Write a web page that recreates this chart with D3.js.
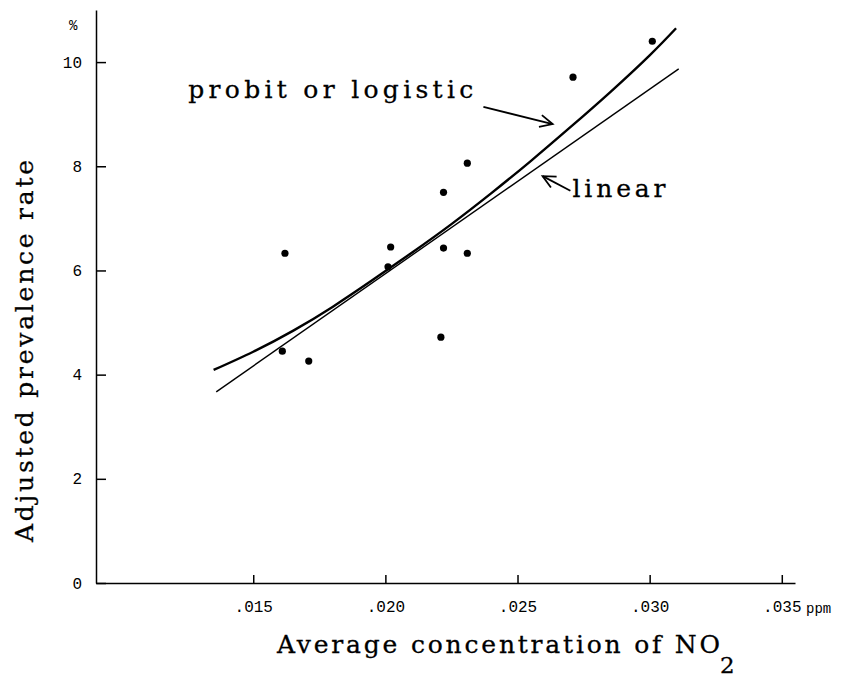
<!DOCTYPE html>
<html>
<head>
<meta charset="utf-8">
<script src="https://cdn.jsdelivr.net/npm/d3@7"></script>
<style>
  body { margin: 0; background: #fff; }
  svg { display: block; }
  text { font-family: "Liberation Mono", "DejaVu Sans Mono", monospace; fill: #000; }
  text.type { font-family: "DejaVu Serif", "Liberation Serif", serif; stroke: #000; stroke-width: 0.3; }
  .axis path, .axis line { stroke: #000; stroke-width: 1.5; }
</style>
</head>
<body>
<div id="chart"></div>
<script>
// observed points: NO2 concentration (ppm) vs adjusted prevalence rate (%)
const concentration = [0.0162, 0.0161, 0.0171, 0.0202, 0.0201, 0.0222, 0.0222, 0.0231, 0.0231, 0.0221, 0.0271, 0.0301];
const prevalence = [6.33, 4.45, 4.26, 6.45, 6.07, 7.50, 6.43, 8.06, 6.33, 4.72, 9.71, 10.40];

// fitted curves
const probitX = [0.0135, 0.0150, 0.0165, 0.0180, 0.0195, 0.0210, 0.0225, 0.0240, 0.0255, 0.0270, 0.0285, 0.0300, 0.0310];
const probitY = [4.09, 4.44, 4.84, 5.30, 5.81, 6.34, 6.89, 7.48, 8.10, 8.75, 9.42, 10.13, 10.65];
const linearX = [0.0136, 0.0311];
const linearY = [3.67, 9.87];

const xTicks = [0.015, 0.020, 0.025, 0.030, 0.035];
const xTickLabels = [".015", ".020", ".025", ".030", ".035"];
const yTicks = [0, 2, 4, 6, 8, 10];

// curve labels and their arrows, in data units
const notes = [
    { text: "probit or logistic", x: 0.01254, y: 9.31, len: 285 },
    { text: "linear", x: 0.02708, y: 7.41, len: 93 }
];
const arrows = [
    { from: [0.02371, 9.14], to: [0.02633, 8.81] },
    { from: [0.02700, 7.53], to: [0.02595, 7.81] }
];

const width = 861, height = 679;

var xScale = d3.scaleLinear()
    .domain([0.00905, 0.0355])
    .range([96, 795]);

var yScale = d3.scaleLinear()
    .domain([0, 11])
    .range([583, 10]);

var svg = d3.select("#chart").append("svg")
    .attr("width", width)
    .attr("height", height);

// x-axis, ticks pointing up into the plot
svg.append("g")
    .attr("class", "axis")
    .attr("transform", "translate(0," + yScale(0) + ")")
    .call(d3.axisBottom(xScale)
        .tickValues(xTicks)
        .tickFormat((d, i) => xTickLabels[i])
        .tickSizeInner(-8)
        .tickSizeOuter(0)
        .tickPadding(18))
    .call(g => g.selectAll("text").attr("font-size", 16));

// y-axis, ticks pointing right
svg.append("g")
    .attr("class", "axis")
    .attr("transform", "translate(" + xScale.range()[0] + ",0)")
    .call(d3.axisLeft(yScale)
        .tickValues(yTicks)
        .tickSizeInner(-10)
        .tickSizeOuter(0)
        .tickPadding(14))
    .call(g => g.selectAll("text").attr("font-size", 16));

svg.selectAll(".axis .domain").attr("fill", "none");

// units
svg.append("text")
    .attr("x", 69).attr("y", 30)
    .attr("font-size", 14)
    .text("%");

svg.append("text")
    .attr("x", 806).attr("y", 613)
    .attr("font-size", 14)
    .text("ppm");

// axis titles
svg.append("text")
    .attr("class", "type")
    .attr("transform", "translate(33,542) rotate(-90)")
    .attr("font-size", 25)
    .attr("textLength", 382)
    .attr("lengthAdjust", "spacing")
    .text("Adjusted prevalence rate");

var xTitle = svg.append("g");
xTitle.append("text")
    .attr("class", "type")
    .attr("x", 277).attr("y", 653)
    .attr("font-size", 25)
    .attr("textLength", 443)
    .attr("lengthAdjust", "spacing")
    .text("Average concentration of NO");
xTitle.append("text")
    .attr("class", "type")
    .attr("x", 720).attr("y", 673)
    .attr("font-size", 23)
    .text("2");

// fitted curves
var line = d3.line()
    .x(d => xScale(d[0]))
    .y(d => yScale(d[1]));

svg.append("path")
    .datum(linearX.map((x, i) => [x, linearY[i]]))
    .attr("fill", "none")
    .attr("stroke", "#000")
    .attr("stroke-width", 1.4)
    .attr("d", line);

svg.append("path")
    .datum(probitX.map((x, i) => [x, probitY[i]]))
    .attr("fill", "none")
    .attr("stroke", "#000")
    .attr("stroke-width", 2.4)
    .attr("d", line.curve(d3.curveNatural));

// observations
svg.append("g")
    .selectAll("circle")
    .data(concentration.map((x, i) => [x, prevalence[i]]))
    .join("circle")
    .attr("cx", d => xScale(d[0]))
    .attr("cy", d => yScale(d[1]))
    .attr("r", 3.6)
    .attr("fill", "#000");

// labels
svg.append("g")
    .selectAll("text")
    .data(notes)
    .join("text")
    .attr("class", "type")
    .attr("x", d => xScale(d.x))
    .attr("y", d => yScale(d.y))
    .attr("font-size", 25)
    .attr("textLength", d => d.len)
    .attr("lengthAdjust", "spacing")
    .text(d => d.text);

// arrows with open heads
var ag = svg.append("g")
    .attr("fill", "none")
    .attr("stroke", "#000")
    .attr("stroke-width", 1.8);

arrows.forEach(a => {
    var x0 = xScale(a.from[0]), y0 = yScale(a.from[1]);
    var x1 = xScale(a.to[0]), y1 = yScale(a.to[1]);
    var ang = Math.atan2(y1 - y0, x1 - x0);
    var len = 14, spread = 0.45;
    ag.append("line")
        .attr("x1", x0).attr("y1", y0)
        .attr("x2", x1).attr("y2", y1);
    ag.append("path")
        .attr("d", "M" + (x1 - len * Math.cos(ang - spread)) + "," + (y1 - len * Math.sin(ang - spread)) +
            "L" + x1 + "," + y1 +
            "L" + (x1 - len * Math.cos(ang + spread)) + "," + (y1 - len * Math.sin(ang + spread)));
});
</script>
</body>
</html>
